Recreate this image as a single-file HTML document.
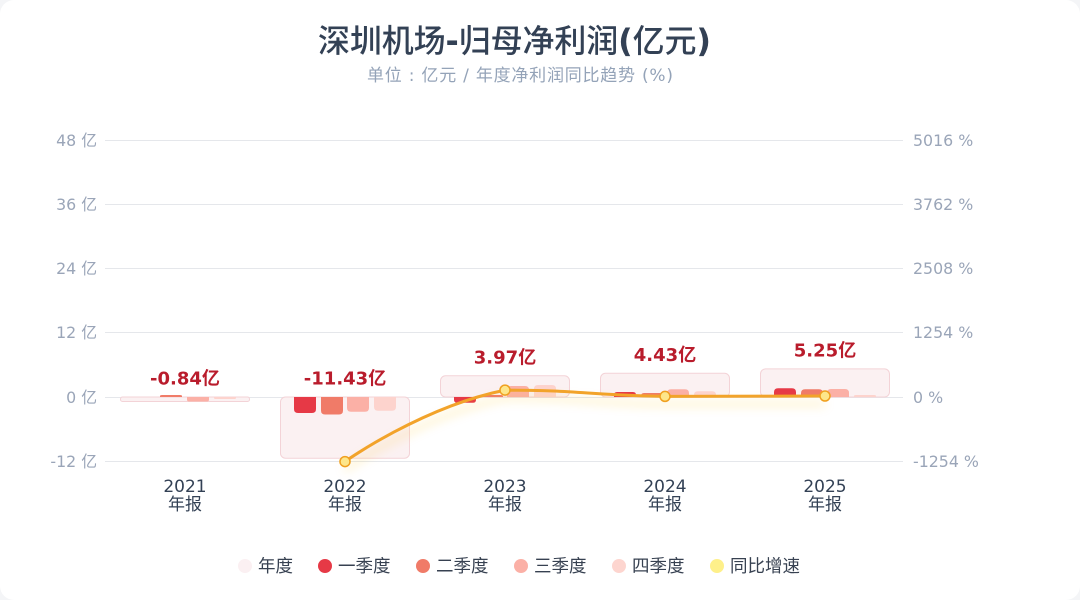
<!DOCTYPE html>
<html><head><meta charset="utf-8">
<style>
html,body{margin:0;padding:0;width:1080px;height:600px;background:#f4f5f7;overflow:hidden;}
.card{position:absolute;left:0;top:0;width:1080px;height:600px;background:#fff;border-radius:14px;}
svg{position:absolute;left:0;top:0;}
text{font-family:"DejaVu Sans","Noto Sans CJK SC",sans-serif;}
</style></head>
<body>
<div class="card"></div>
<svg width="1080" height="600" viewBox="0 0 1080 600" xmlns="http://www.w3.org/2000/svg">
<defs>
<filter id="glow" x="-20%" y="-100%" width="140%" height="300%">
<feDropShadow dx="0" dy="8" stdDeviation="5" flood-color="#fbbf24" flood-opacity="0.35"/>
</filter>
</defs>
<!-- title -->
<text x="514.5" y="52" text-anchor="middle" font-size="32" font-weight="500" fill="#334155" textLength="393" lengthAdjust="spacing">深圳机场<tspan font-weight="bold">-</tspan>归母净利润<tspan font-weight="bold">(</tspan>亿元<tspan font-weight="bold">)</tspan></text>
<text x="520" y="81" text-anchor="middle" font-size="17" fill="#94a3b8" textLength="306" lengthAdjust="spacing">单位 : 亿元 / 年度净利润同比趋势 (%)</text>

<!-- grid -->
<g stroke="#e5e7eb" stroke-width="1">
<line x1="105" y1="140.5" x2="903" y2="140.5"/>
<line x1="105" y1="204.5" x2="903" y2="204.5"/>
<line x1="105" y1="268.5" x2="903" y2="268.5"/>
<line x1="105" y1="332.5" x2="903" y2="332.5"/>
<line x1="105" y1="397.5" x2="903" y2="397.5"/>
<line x1="105" y1="461.5" x2="903" y2="461.5"/>
</g>
<!-- left ticks -->
<g font-size="15.8" fill="#9aa5b8" text-anchor="end">
<text x="97" y="146">48 亿</text>
<text x="97" y="210">36 亿</text>
<text x="97" y="274">24 亿</text>
<text x="97" y="338">12 亿</text>
<text x="97" y="403">0 亿</text>
<text x="97" y="467">-12 亿</text>
</g>
<g font-size="15.8" fill="#9aa5b8" text-anchor="start">
<text x="913" y="146">5016 %</text>
<text x="913" y="210">3762 %</text>
<text x="913" y="274">2508 %</text>
<text x="913" y="338">1254 %</text>
<text x="913" y="403">0 %</text>
<text x="913" y="467">-1254 %</text>
</g>
<!-- x labels -->
<g font-size="17" fill="#334155" text-anchor="middle">
<text x="185" y="492">2021</text><text x="185" y="510">年报</text>
<text x="345" y="492">2022</text><text x="345" y="510">年报</text>
<text x="505" y="492">2023</text><text x="505" y="510">年报</text>
<text x="665" y="492">2024</text><text x="665" y="510">年报</text>
<text x="825" y="492">2025</text><text x="825" y="510">年报</text>
</g>

<!-- annual rects -->
<g fill="#fbf1f2" stroke="#f3d3d7" stroke-width="1">
<rect x="120.5" y="397" width="129" height="4.5" rx="2"/>
<rect x="280.5" y="397" width="129" height="61.2" rx="5"/>
<rect x="440.5" y="375.8" width="129" height="21.2" rx="5"/>
<rect x="600.5" y="373.3" width="129" height="23.7" rx="5"/>
<rect x="760.5" y="368.9" width="129" height="28.1" rx="5"/>
</g>

<!-- quarter bars -->
<path d="M160,397 V396 Q160,395 162,395 H180 Q182,395 182,396 V397 Z" fill="#f07b68"/>
<path d="M187,397 V399.5 Q187,401.5 189,401.5 H207 Q209,401.5 209,399.5 V397 Z" fill="#fbb0a6"/>
<path d="M214,397 V398 Q214,399 216,399 H234 Q236,399 236,398 V397 Z" fill="#fdd3cd"/>
<path d="M294,397 V409 Q294,413 298,413 H312 Q316,413 316,409 V397 Z" fill="#e63946"/>
<path d="M321,397 V410.5 Q321,414.5 325,414.5 H339 Q343,414.5 343,410.5 V397 Z" fill="#f07b68"/>
<path d="M347,397 V407.7 Q347,411.7 351,411.7 H365 Q369,411.7 369,407.7 V397 Z" fill="#fbb0a6"/>
<path d="M374,397 V406.7 Q374,410.7 378,410.7 H392 Q396,410.7 396,406.7 V397 Z" fill="#fdd3cd"/>
<path d="M454,397 V399.7 Q454,402.7 457,402.7 H473 Q476,402.7 476,399.7 V397 Z" fill="#e63946"/>
<path d="M481,397 V396.5 Q481,395 483,395 H501 Q503,395 503,396.5 V397 Z" fill="#f07b68"/>
<path d="M507,397 V390 Q507,386 511,386 H525 Q529,386 529,390 V397 Z" fill="#fbb0a6"/>
<path d="M534,397 V389 Q534,385 538,385 H552 Q556,385 556,389 V397 Z" fill="#fdd3cd"/>
<path d="M614,397 V395 Q614,392 617,392 H633 Q636,392 636,395 V397 Z" fill="#e63946"/>
<path d="M641,397 V396 Q641,393 644,393 H660 Q663,393 663,396 V397 Z" fill="#f07b68"/>
<path d="M667,397 V393.3 Q667,389.3 671,389.3 H685 Q689,389.3 689,393.3 V397 Z" fill="#fbb0a6"/>
<path d="M694,397 V395 Q694,391.3 698,391.3 H712 Q716,391.3 716,395 V397 Z" fill="#fdd3cd"/>
<path d="M774,397 V392.3 Q774,388.3 778,388.3 H792 Q796,388.3 796,392.3 V397 Z" fill="#e63946"/>
<path d="M801,397 V393.3 Q801,389.3 805,389.3 H819 Q823,389.3 823,393.3 V397 Z" fill="#f07b68"/>
<path d="M827,397 V393 Q827,389 831,389 H845 Q849,389 849,393 V397 Z" fill="#fbb0a6"/>
<path d="M854,397 V396 Q854,395 856,395 H874 Q876,395 876,396 V397 Z" fill="#fdd3cd"/>

<!-- yoy line -->
<path d="M345,461.6 C345,461.6 421.4,407.1 505,390.1 C581.4,390.1 585,394.9 665,396.4 C745,396.4 825,396 825,396" fill="none" stroke="#f2a32b" stroke-width="3" filter="url(#glow)"/>
<g fill="#fde68a" stroke="#f0a020" stroke-width="1.5">
<circle cx="345" cy="461.6" r="5"/>
<circle cx="505" cy="390.1" r="5"/>
<circle cx="665" cy="396.4" r="5"/>
<circle cx="825" cy="396" r="5"/>
</g>

<!-- value labels -->
<g font-size="18" font-weight="bold" fill="#b91c2c" text-anchor="middle">
<text x="185" y="384.5">-0.84亿</text>
<text x="345" y="384.5">-11.43亿</text>
<text x="505" y="363.5">3.97亿</text>
<text x="665" y="361">4.43亿</text>
<text x="825" y="356.5">5.25亿</text>
</g>

<!-- legend -->
<g font-size="17.5" fill="#374151">
<circle cx="245" cy="566" r="7" fill="#fbf0f2"/><text x="258" y="572">年度</text>
<circle cx="325" cy="566" r="7" fill="#e63946"/><text x="338" y="572">一季度</text>
<circle cx="423" cy="566" r="7" fill="#f07b68"/><text x="436" y="572">二季度</text>
<circle cx="521" cy="566" r="7" fill="#fbb0a6"/><text x="534" y="572">三季度</text>
<circle cx="619" cy="566" r="7" fill="#fdd5cf"/><text x="632" y="572">四季度</text>
<circle cx="717" cy="566" r="7" fill="#fef08a"/><text x="730" y="572">同比增速</text>
</g>
</svg>
</body></html>
